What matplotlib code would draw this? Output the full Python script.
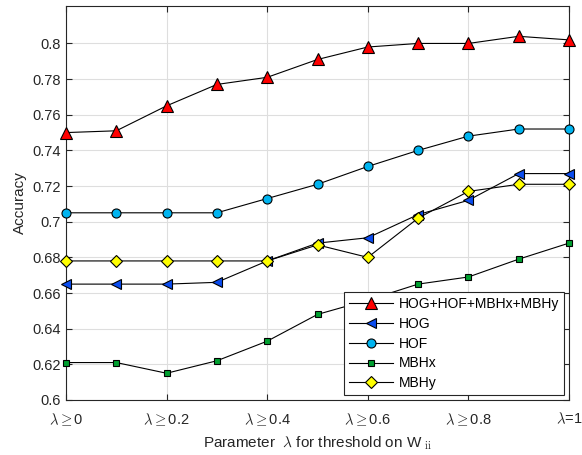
import numpy as np
import matplotlib.pyplot as plt

plt.rcParams['font.family'] = ['Liberation Sans', 'DejaVu Sans']
plt.rcParams['mathtext.fontset'] = 'cm'

lam = [0, 0.1, 0.2, 0.3, 0.4, 0.5, 0.6, 0.7, 0.8, 0.9, 1.0]
all_feat = [0.750, 0.751, 0.765, 0.777, 0.781, 0.791, 0.798, 0.800, 0.800, 0.804, 0.802]
hog = [0.665, 0.665, 0.665, 0.666, 0.678, 0.688, 0.691, 0.704, 0.712, 0.727, 0.727]
hof = [0.705, 0.705, 0.705, 0.705, 0.713, 0.721, 0.731, 0.740, 0.748, 0.752, 0.752]
mbhx = [0.621, 0.621, 0.615, 0.622, 0.633, 0.648, 0.656, 0.665, 0.669, 0.679, 0.688]
mbhy = [0.678, 0.678, 0.678, 0.678, 0.678, 0.687, 0.680, 0.702, 0.717, 0.721, 0.721]

xtick_pos = [0, 0.2, 0.4, 0.6, 0.8, 1.0]
xtick_labels = [r"$\lambda\geq$0", r"$\lambda\geq$0.2", r"$\lambda\geq$0.4",
                r"$\lambda\geq$0.6", r"$\lambda\geq$0.8", r"$\lambda$=1"]

series = [
    ("HOG+HOF+MBHx+MBHy", all_feat, "^", "#ff0000", 8),
    ("HOG", hog, "<", "#0a4cf0", 7.5),
    ("HOF", hof, "o", "#00b4f0", 6.5),
    ("MBHx", mbhx, "s", "#00a030", 5),
    ("MBHy", mbhy, "D", "#ffff00", 6.5),
]

fig = plt.figure(figsize=(5.82, 4.55), dpi=100)
ax = fig.add_axes([0.1134, 0.1209, 0.8643, 0.8659])

for name, vals, mk, col, ms in series:
    ax.plot(lam, vals, color="black", lw=0.8, marker=mk, markersize=ms,
            markerfacecolor=col, markeredgecolor="black", markeredgewidth=0.8,
            label=name, clip_on=False, zorder=3)

ax.set_xlim(0, 1)
ax.set_ylim(0.6, 0.821)
ax.set_xticks(xtick_pos)
ax.set_xticklabels(xtick_labels)
ax.set_yticks(np.arange(0.6, 0.801, 0.02))
ax.set_yticklabels(["0.6", "0.62", "0.64", "0.66", "0.68", "0.7", "0.72",
                    "0.74", "0.76", "0.78", "0.8"])
ax.grid(True, color="#dedede", lw=0.8)
ax.set_axisbelow(True)
ax.tick_params(colors="#262626", labelsize=10.5, direction="in", length=4,
               top=True, right=True)
ax.tick_params(axis="x", pad=8)
for sp in ax.spines.values():
    sp.set_color("#262626")
    sp.set_linewidth(0.8)

ax.set_xlabel(r"Parameter  $\lambda$ for threshold on W$_{\rm\ ii}$",
              fontsize=11, color="#262626", labelpad=5)
ax.set_ylabel("Accuracy", fontsize=11, color="#262626")

leg = ax.legend(loc="lower right", fontsize=10, fancybox=False,
                framealpha=1, edgecolor="#262626", borderaxespad=0.35,
                handlelength=3.2, labelspacing=0.42, borderpad=0.35,
                handletextpad=0.4)
leg.set_zorder(10)
leg.get_frame().set_linewidth(0.8)

fig.savefig("out.png", dpi=100)
